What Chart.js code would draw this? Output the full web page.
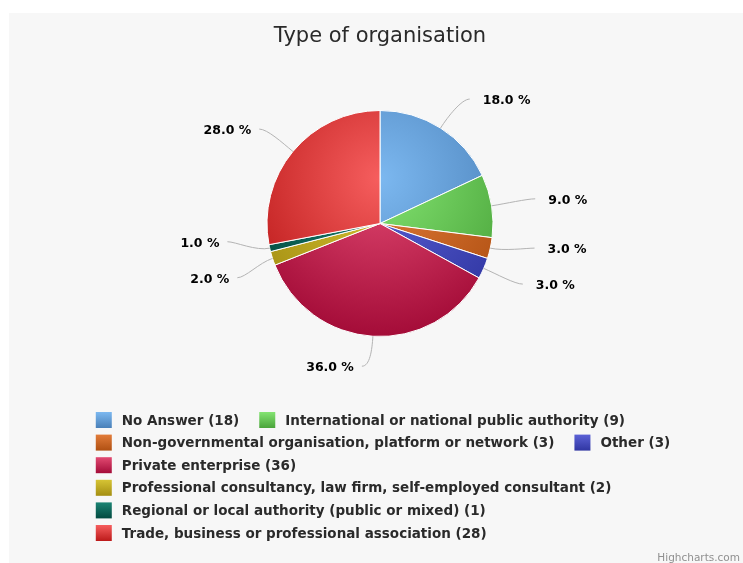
<!DOCTYPE html>
<html><head><meta charset="utf-8">
<script src="https://cdn.jsdelivr.net/npm/chart.js@4"></script>
<style>html,body{margin:0;padding:0;background:#fff}canvas{display:block}</style>
</head><body>
<canvas id="c" width="743" height="563"></canvas>
<script>
const chartTitle = 'Type of organisation';
const categories = [
  'No Answer',
  'International or national public authority',
  'Non-governmental organisation, platform or network',
  'Other',
  'Private enterprise',
  'Professional consultancy, law firm, self-employed consultant',
  'Regional or local authority (public or mixed)',
  'Trade, business or professional association'
];
const values = [18, 9, 3, 3, 36, 2, 1, 28];
const lightColors = ['#7cb8f0', '#84e472', '#e27c3a', '#5c62d6', '#e24a72', '#d6c434', '#1c8474', '#f65e5e'];
const darkColors  = ['#4a80b8', '#4aa43a', '#b05012', '#3036a2', '#a40c38', '#a48e12', '#024a40', '#bc1a1a'];
const creditText = 'Highcharts.com';

const FONT = "'DejaVu Sans', Verdana, sans-serif";

function pieGeom(chart) {
  const ca = chart.chartArea;
  const cx = (ca.left + ca.right) / 2, cy = (ca.top + ca.bottom) / 2;
  const R = (Math.min(ca.right - ca.left, ca.bottom - ca.top) - 1) / 2;
  return {cx, cy, R};
}

function sliceFill(ctx) {
  const chart = ctx.chart;
  const i = ctx.dataIndex;
  if (!chart.chartArea || i === undefined) return lightColors[i] || '#999';
  const {cx, cy, R} = pieGeom(chart);
  const g = chart.ctx.createRadialGradient(cx, cy - 0.4 * R, 0, cx, cy - 0.4 * R, 1.4 * R);
  g.addColorStop(0, lightColors[i]);
  g.addColorStop(1, darkColors[i]);
  return g;
}

const bgPlugin = {
  id: 'bg',
  beforeDraw(chart) {
    const c = chart.ctx;
    c.save();
    c.fillStyle = '#ffffff';
    c.fillRect(0, 0, chart.width, chart.height);
    c.fillStyle = '#f7f7f7';
    c.fillRect(9, 13, chart.width - 9, chart.height - 13);
    c.restore();
  }
};

const labelPlugin = {
  id: 'pieLabels',
  afterDatasetsDraw(chart) {
    const meta = chart.getDatasetMeta(0);
    const total = values.reduce((a, b) => a + b, 0);
    const D = 32, minGap = 36;
    const items = meta.data.map((arc, i) => {
      const p = arc.getProps(['x', 'y', 'startAngle', 'endAngle', 'outerRadius'], true);
      const mid = (p.startAngle + p.endAngle) / 2;
      const cos = Math.cos(mid), sin = Math.sin(mid);
      return {i, p, cos, sin, right: cos >= 0, ly: p.y + (p.outerRadius + D) * sin};
    });
    [true, false].forEach(side => {
      const s = items.filter(it => it.right === side).sort((a, b) => a.ly - b.ly);
      for (let k = 0; k < 60; k++) {
        for (let j = 0; j < s.length - 1; j++) {
          const d = s[j + 1].ly - s[j].ly;
          if (d < minGap) {
            const push = (minGap - d) / 2;
            s[j].ly -= push; s[j + 1].ly += push;
          }
        }
      }
    });
    const c = chart.ctx;
    c.save();
    items.forEach(it => {
      const {p} = it;
      const rr = p.outerRadius + D;
      const dy = it.ly - p.y;
      const dx = Math.sqrt(Math.max(0, rr * rr - dy * dy));
      const xc = it.right ? p.x + dx : p.x - dx;
      const ex = p.x + p.outerRadius * it.cos, ey = p.y + p.outerRadius * it.sin;
      const mx = p.x + (p.outerRadius + 14) * it.cos, my = p.y + (p.outerRadius + 14) * it.sin;
      const px = it.right ? xc + 12 : xc - 9;
      const py = it.ly - 2;
      c.strokeStyle = '#b4b4b4';
      c.lineWidth = 1;
      c.beginPath();
      c.moveTo(ex, ey);
      c.bezierCurveTo(mx, my, it.right ? px - 8 : px + 8, py, px, py);
      c.stroke();
      c.fillStyle = '#000';
      c.font = 'bold 12.5px ' + FONT;
      c.textBaseline = 'middle';
      c.textAlign = it.right ? 'left' : 'right';
      const txt = (values[it.i] / total * 100).toFixed(1) + ' %';
      c.fillText(txt, it.right ? xc + 25 : xc - 17, it.ly);
    });
    c.restore();
  }
};

const legendPlugin = {
  id: 'hcLegend',
  afterDraw(chart) {
    const c = chart.ctx;
    c.save();
    c.font = 'bold 13.5px ' + FONT;
    const sym = 16, symGap = 10, itemGap = 20, maxW = 650, rowH = 22.6, firstY = 420;
    const items = categories.map((cat, i) => {
      const text = cat + ' (' + values[i] + ')';
      return {i, text, w: sym + symGap + c.measureText(text).width};
    });
    const rows = [];
    let cur = [], curW = 0;
    items.forEach(it => {
      const add = cur.length ? itemGap + it.w : it.w;
      if (cur.length && curW + add > maxW) { rows.push({items: cur, w: curW}); cur = [it]; curW = it.w; }
      else { cur.push(it); curW += add; }
    });
    if (cur.length) rows.push({items: cur, w: curW});
    const maxRow = Math.max(...rows.map(r => r.w));
    const {cx} = pieGeom(chart);
    const left = cx - maxRow / 2 + 3;
    rows.forEach((r, ri) => {
      let x = left;
      const y = firstY + ri * rowH;
      r.items.forEach(it => {
        const g = c.createLinearGradient(0, y - sym / 2, 0, y + sym / 2);
        g.addColorStop(0, lightColors[it.i]);
        g.addColorStop(1, darkColors[it.i]);
        c.fillStyle = g;
        c.fillRect(x, y - sym / 2, sym, sym);
        c.fillStyle = '#2a2a2a';
        c.textAlign = 'left';
        c.textBaseline = 'middle';
        c.fillText(it.text, x + sym + symGap, y + 1);
        x += it.w + itemGap;
      });
    });
    c.font = '10.5px ' + FONT;
    c.fillStyle = '#909090';
    c.textAlign = 'right';
    c.textBaseline = 'alphabetic';
    c.fillText(creditText, chart.width - 3, chart.height - 2);
    c.restore();
  }
};

new Chart(document.getElementById('c'), {
  type: 'pie',
  data: {
    labels: categories,
    datasets: [{
      data: values,
      backgroundColor: sliceFill,
      borderColor: '#ffffff',
      borderWidth: 1
    }]
  },
  options: {
    responsive: false,
    animation: false,
    devicePixelRatio: 1,
    layout: {padding: {left: 17, right: 0, top: 0, bottom: 226}},
    plugins: {
      legend: {display: false},
      tooltip: {enabled: false},
      title: {
        display: true,
        text: chartTitle,
        color: '#2a2a2a',
        font: {family: FONT, size: 21, weight: 'normal'},
        padding: {top: 24.4, bottom: 60.4}
      }
    }
  },
  plugins: [bgPlugin, labelPlugin, legendPlugin]
});
</script>
</body></html>
